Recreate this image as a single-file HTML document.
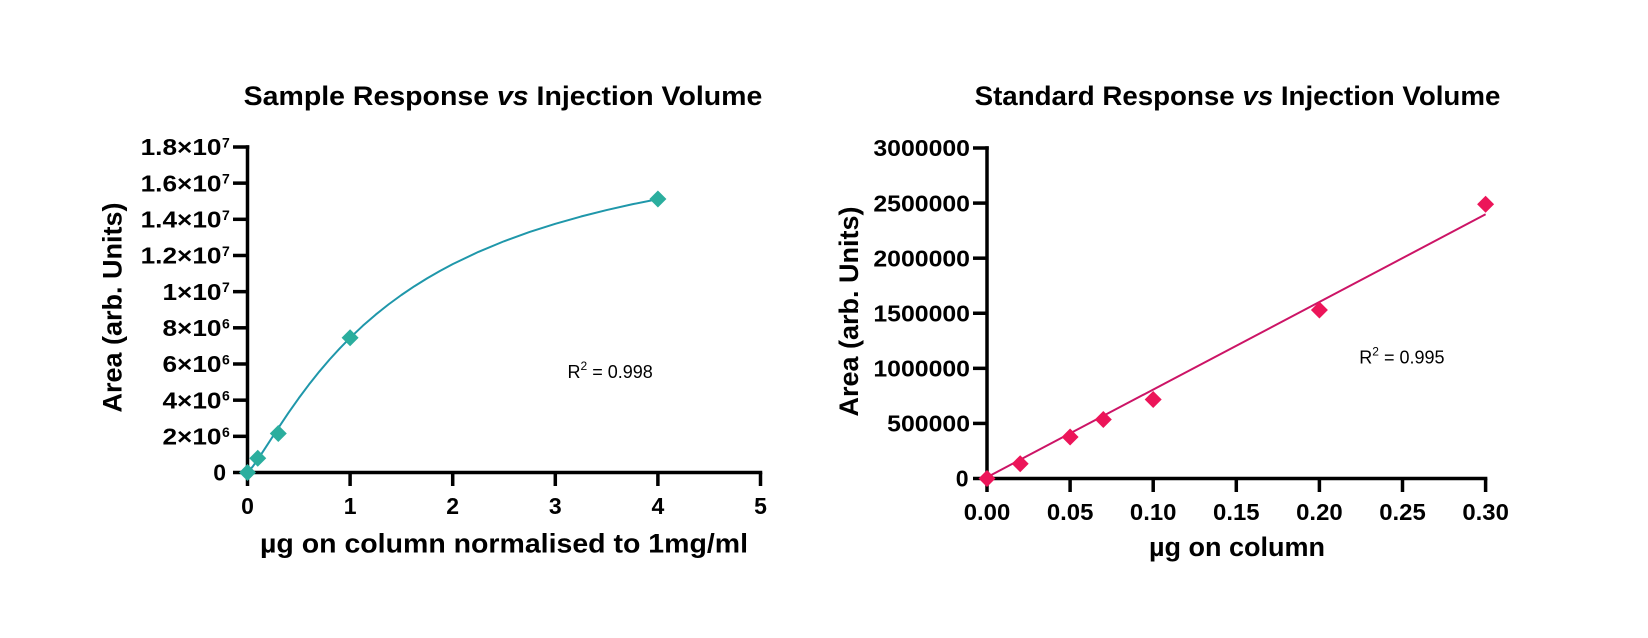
<!DOCTYPE html>
<html>
<head>
<meta charset="utf-8">
<style>
  html, body { margin: 0; padding: 0; background: #ffffff; }
  svg { display: block; }
  text { font-family: "Liberation Sans", Arial, sans-serif; fill: #000; }
  .b { font-weight: bold; }
</style>
</head>
<body>
<svg width="1648" height="638" viewBox="0 0 1648 638" xmlns="http://www.w3.org/2000/svg">
  <rect x="0" y="0" width="1648" height="638" fill="#ffffff"/>

  <!-- ================= LEFT CHART ================= -->
  <text class="b" font-size="27" text-anchor="middle" transform="translate(503,105) scale(1.055,1)">Sample Response <tspan font-style="italic">vs</tspan> Injection Volume</text>

  <g stroke="#000" stroke-width="3.5" fill="none">
    <line x1="247.5" y1="145.3" x2="247.5" y2="486"/>
    <line x1="245.75" y1="472.5" x2="762.25" y2="472.5"/>
    <line x1="233" y1="472.5" x2="247.5" y2="472.5"/>
    <line x1="233" y1="436.33" x2="247.5" y2="436.33"/>
    <line x1="233" y1="400.16" x2="247.5" y2="400.16"/>
    <line x1="233" y1="363.99" x2="247.5" y2="363.99"/>
    <line x1="233" y1="327.82" x2="247.5" y2="327.82"/>
    <line x1="233" y1="291.65" x2="247.5" y2="291.65"/>
    <line x1="233" y1="255.48" x2="247.5" y2="255.48"/>
    <line x1="233" y1="219.31" x2="247.5" y2="219.31"/>
    <line x1="233" y1="183.14" x2="247.5" y2="183.14"/>
    <line x1="233" y1="147.0" x2="249.25" y2="147.0"/>
    <line x1="350.1" y1="472.5" x2="350.1" y2="486"/>
    <line x1="452.7" y1="472.5" x2="452.7" y2="486"/>
    <line x1="555.3" y1="472.5" x2="555.3" y2="486"/>
    <line x1="657.9" y1="472.5" x2="657.9" y2="486"/>
    <line x1="760.5" y1="472.5" x2="760.5" y2="486"/>
  </g>

  <g class="b" font-size="23">
    <text x="226" y="480.7" text-anchor="end">0</text>

    <text text-anchor="end" transform="translate(221.5,444.5) scale(1.14,1)">2×10</text>
    <text x="222" y="436.8" font-size="14">6</text>

    <text text-anchor="end" transform="translate(221.5,408.3) scale(1.14,1)">4×10</text>
    <text x="222" y="400.6" font-size="14">6</text>

    <text text-anchor="end" transform="translate(221.5,372.2) scale(1.14,1)">6×10</text>
    <text x="222" y="364.5" font-size="14">6</text>

    <text text-anchor="end" transform="translate(221.5,336) scale(1.14,1)">8×10</text>
    <text x="222" y="328.3" font-size="14">6</text>

    <text text-anchor="end" transform="translate(221.5,299.8) scale(1.14,1)">1×10</text>
    <text x="222" y="292.1" font-size="14">7</text>

    <text text-anchor="end" transform="translate(221.5,263.7) scale(1.14,1)">1.2×10</text>
    <text x="222" y="256" font-size="14">7</text>

    <text text-anchor="end" transform="translate(221.5,227.5) scale(1.14,1)">1.4×10</text>
    <text x="222" y="219.8" font-size="14">7</text>

    <text text-anchor="end" transform="translate(221.5,191.3) scale(1.14,1)">1.6×10</text>
    <text x="222" y="183.6" font-size="14">7</text>

    <text text-anchor="end" transform="translate(221.5,155.2) scale(1.14,1)">1.8×10</text>
    <text x="222" y="147.5" font-size="14">7</text>
  </g>

  <g class="b" font-size="23" text-anchor="middle">
    <text x="247.5" y="514">0</text>
    <text x="350.1" y="514">1</text>
    <text x="452.7" y="514">2</text>
    <text x="555.3" y="514">3</text>
    <text x="657.9" y="514">4</text>
    <text x="760.5" y="514">5</text>
  </g>

  <text class="b" font-size="27" text-anchor="middle" transform="translate(121.5,307.5) rotate(-90)">Area (arb. Units)</text>
  <text class="b" font-size="27" text-anchor="middle" transform="translate(504,552.5) scale(1.055,1)">µg on column normalised to 1mg/ml</text>

  <text font-size="18" x="567.5" y="378">R<tspan font-size="12" dy="-8">2</tspan><tspan dy="8"> = 0.998</tspan></text>

  <path d="M247.5,472.5 L252.63,466.69 L257.76,459.41 L262.89,451.69 L268.02,443.79 L273.15,435.87 L278.28,428.02 L288.54,412.73 L298.8,398.16 L309.06,384.43 L319.32,371.55 L329.58,359.51 L339.84,348.27 L350.1,337.79 L362.93,325.68 L375.75,314.57 L388.58,304.37 L401.4,295.0 L414.23,286.34 L427.05,278.37 L439.88,270.99 L452.7,264.15 L478.35,251.90 L504.0,241.26 L529.65,231.96 L555.3,223.78 L580.95,216.53 L606.6,210.07 L632.25,204.28 L657.9,199.09" fill="none" stroke="#1f97aa" stroke-width="2" stroke-linejoin="round" stroke-linecap="round"/>

  <g fill="#2bae9e">
    <polygon points="247.5,464 256,472.5 247.5,481 239,472.5"/>
    <polygon points="257.76,449.8 266.26,458.3 257.76,466.8 249.26,458.3"/>
    <polygon points="278.28,425 286.78,433.5 278.28,442 269.78,433.5"/>
    <polygon points="350.1,329.2 358.6,337.7 350.1,346.2 341.6,337.7"/>
    <polygon points="657.9,190.5 666.4,199 657.9,207.5 649.4,199"/>
  </g>

  <!-- ================= RIGHT CHART ================= -->
  <text class="b" font-size="27" text-anchor="middle" transform="translate(1237.5,105) scale(1.026,1)">Standard Response <tspan font-style="italic">vs</tspan> Injection Volume</text>

  <g stroke="#000" stroke-width="3.5" fill="none">
    <line x1="987" y1="146.25" x2="987" y2="492"/>
    <line x1="985.25" y1="478.5" x2="1487.35" y2="478.5"/>
    <line x1="973" y1="478.5" x2="987" y2="478.5"/>
    <line x1="973" y1="423.42" x2="987" y2="423.42"/>
    <line x1="973" y1="368.34" x2="987" y2="368.34"/>
    <line x1="973" y1="313.26" x2="987" y2="313.26"/>
    <line x1="973" y1="258.18" x2="987" y2="258.18"/>
    <line x1="973" y1="203.1" x2="987" y2="203.1"/>
    <line x1="973" y1="148.0" x2="988.75" y2="148.0"/>
    <line x1="1070.1" y1="478.5" x2="1070.1" y2="492"/>
    <line x1="1153.2" y1="478.5" x2="1153.2" y2="492"/>
    <line x1="1236.3" y1="478.5" x2="1236.3" y2="492"/>
    <line x1="1319.4" y1="478.5" x2="1319.4" y2="492"/>
    <line x1="1402.5" y1="478.5" x2="1402.5" y2="492"/>
    <line x1="1485.6" y1="478.5" x2="1485.6" y2="492"/>
  </g>

  <g class="b" font-size="23" text-anchor="end">
    <text x="968.5" y="486.7">0</text>
    <text transform="translate(970,431.6) scale(1.08,1)">500000</text>
    <text transform="translate(970,376.5) scale(1.08,1)">1000000</text>
    <text transform="translate(970,321.5) scale(1.08,1)">1500000</text>
    <text transform="translate(970,266.4) scale(1.08,1)">2000000</text>
    <text transform="translate(970,211.3) scale(1.08,1)">2500000</text>
    <text transform="translate(970,156.2) scale(1.08,1)">3000000</text>
  </g>

  <g class="b" font-size="23" text-anchor="middle">
    <text transform="translate(987,520) scale(1.04,1)">0.00</text>
    <text transform="translate(1070.1,520) scale(1.04,1)">0.05</text>
    <text transform="translate(1153.2,520) scale(1.04,1)">0.10</text>
    <text transform="translate(1236.3,520) scale(1.04,1)">0.15</text>
    <text transform="translate(1319.4,520) scale(1.04,1)">0.20</text>
    <text transform="translate(1402.5,520) scale(1.04,1)">0.25</text>
    <text transform="translate(1485.6,520) scale(1.04,1)">0.30</text>
  </g>

  <text class="b" font-size="27" text-anchor="middle" transform="translate(858,311.5) rotate(-90)">Area (arb. Units)</text>
  <text class="b" font-size="27" text-anchor="middle" x="1237" y="556">µg on column</text>

  <text font-size="18" x="1359.3" y="363.3">R<tspan font-size="12" dy="-8">2</tspan><tspan dy="8"> = 0.995</tspan></text>

  <line x1="987" y1="477.2" x2="1485.6" y2="214.3" stroke="#cc1466" stroke-width="2"/>

  <g fill="#ec1559">
    <polygon points="987,470 995.5,478.5 987,487 978.5,478.5"/>
    <polygon points="1020.2,455.2 1028.7,463.7 1020.2,472.2 1011.7,463.7"/>
    <polygon points="1070.1,428.5 1078.6,437 1070.1,445.5 1061.6,437"/>
    <polygon points="1103.3,411 1111.8,419.5 1103.3,428 1094.8,419.5"/>
    <polygon points="1153.2,391 1161.7,399.5 1153.2,408 1144.7,399.5"/>
    <polygon points="1319.4,301.5 1327.9,310 1319.4,318.5 1310.9,310"/>
    <polygon points="1485.6,195.8 1494.1,204.3 1485.6,212.8 1477.1,204.3"/>
  </g>
</svg>
</body>
</html>
